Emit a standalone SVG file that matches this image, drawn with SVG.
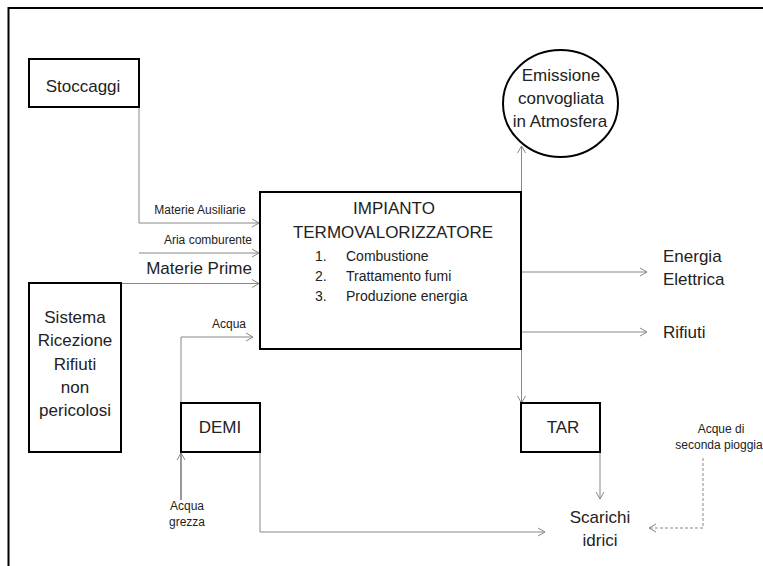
<svg xmlns="http://www.w3.org/2000/svg" width="763" height="566" viewBox="0 0 763 566">
<defs>
<marker id="arr" markerWidth="10" markerHeight="10" refX="8" refY="5" orient="auto" markerUnits="userSpaceOnUse">
<path d="M1,1 L8,5 L1,9" fill="none" stroke="#888" stroke-width="1"/>
</marker>
<style>
text{font-family:"Liberation Sans",Arial,sans-serif;fill:#222}
.box{fill:#fff;stroke:#000;stroke-width:2}
.big{font-size:17px}
.mid{font-size:14px}
.sm{font-size:12px}
.ln{fill:none;stroke:#888;stroke-width:1}
.dk{fill:none;stroke:#333;stroke-width:1}
.ds{fill:none;stroke:#888;stroke-width:1;stroke-dasharray:3,2}
</style>
</defs>
<path d="M8.5,566 V8 H763" fill="none" stroke="#000" stroke-width="2"/>
<g id="connectors">
<path class="ln" d="M139,107 V223 H259" marker-end="url(#arr)"/>
<path class="ln" d="M139,253 H259" marker-end="url(#arr)"/>
<path class="ln" d="M121,283.5 H259" marker-end="url(#arr)"/>
<path class="ln" d="M181,403 V337 H253" marker-end="url(#arr)"/>
<path class="dk" d="M181,500 V453" marker-end="url(#arr)"/>
<path class="ln" d="M260,452 V532 H545" marker-end="url(#arr)"/>
<path class="ln" d="M521.5,192 V146" marker-end="url(#arr)"/>
<path class="ln" d="M521.5,350 V403" marker-end="url(#arr)"/>
<path class="ln" d="M521,272 H647" marker-end="url(#arr)"/>
<path class="ln" d="M521,332 H647" marker-end="url(#arr)"/>
<path class="ln" d="M600,452 V499" marker-end="url(#arr)"/>
<path class="ds" d="M703,458 V528 H649" marker-end="url(#arr)"/>
<text class="sm" x="200" y="214" text-anchor="middle">Materie Ausiliarie</text>
<text class="sm" x="252" y="244" text-anchor="end">Aria comburente</text>
<text class="big" x="252" y="274" text-anchor="end">Materie Prime</text>
<text class="sm" x="246" y="328" text-anchor="end">Acqua</text>
<text class="sm" x="187" y="510" text-anchor="middle">Acqua</text>
<text class="sm" x="187" y="526" text-anchor="middle">grezza</text>
<text class="sm" x="721" y="433" text-anchor="middle">Acque di</text>
<text class="sm" x="719" y="449" text-anchor="middle">seconda pioggia</text>
</g>
<g id="stoccaggi">
<rect class="box" x="29" y="59" width="110" height="48"/>
<text class="big" x="83" y="92" text-anchor="middle">Stoccaggi</text>
</g>
<g id="sistema">
<rect class="box" x="29" y="283" width="92" height="169"/>
<text class="big" text-anchor="middle"><tspan x="75" y="323">Sistema</tspan><tspan x="75" y="346">Ricezione</tspan><tspan x="75" y="370">Rifiuti</tspan><tspan x="75" y="393">non</tspan><tspan x="75" y="416">pericolosi</tspan></text>
</g>
<g id="impianto">
<rect class="box" x="260" y="192" width="261" height="157"/>
<text class="big" x="394" y="214" text-anchor="middle">IMPIANTO</text>
<text class="big" x="393" y="238" text-anchor="middle">TERMOVALORIZZATORE</text>
<text class="mid"><tspan x="315" y="261">1.</tspan><tspan x="346" y="261">Combustione</tspan><tspan x="315" y="281">2.</tspan><tspan x="346" y="281">Trattamento fumi</tspan><tspan x="315" y="301">3.</tspan><tspan x="346" y="301">Produzione energia</tspan></text>
</g>
<g id="emissione">
<ellipse cx="560.5" cy="103.5" rx="57.5" ry="53.5" fill="#fff" stroke="#000" stroke-width="2"/>
<text class="big" text-anchor="middle"><tspan x="561" y="81">Emissione</tspan><tspan x="561" y="104">convogliata</tspan><tspan x="560" y="127">in Atmosfera</tspan></text>
</g>
<g id="energia">
<text class="big"><tspan x="663" y="262">Energia</tspan><tspan x="663" y="285">Elettrica</tspan></text>
</g>
<g id="rifiuti">
<text class="big" x="663" y="338">Rifiuti</text>
</g>
<g id="demi">
<rect class="box" x="181" y="403" width="79" height="49"/>
<text class="big" x="220" y="433" text-anchor="middle">DEMI</text>
</g>
<g id="tar">
<rect class="box" x="521" y="403" width="79" height="49"/>
<text class="big" x="563" y="433" text-anchor="middle">TAR</text>
</g>
<g id="scarichi">
<text class="big" text-anchor="middle"><tspan x="600" y="523">Scarichi</tspan><tspan x="600" y="546">idrici</tspan></text>
</g>
</svg>
